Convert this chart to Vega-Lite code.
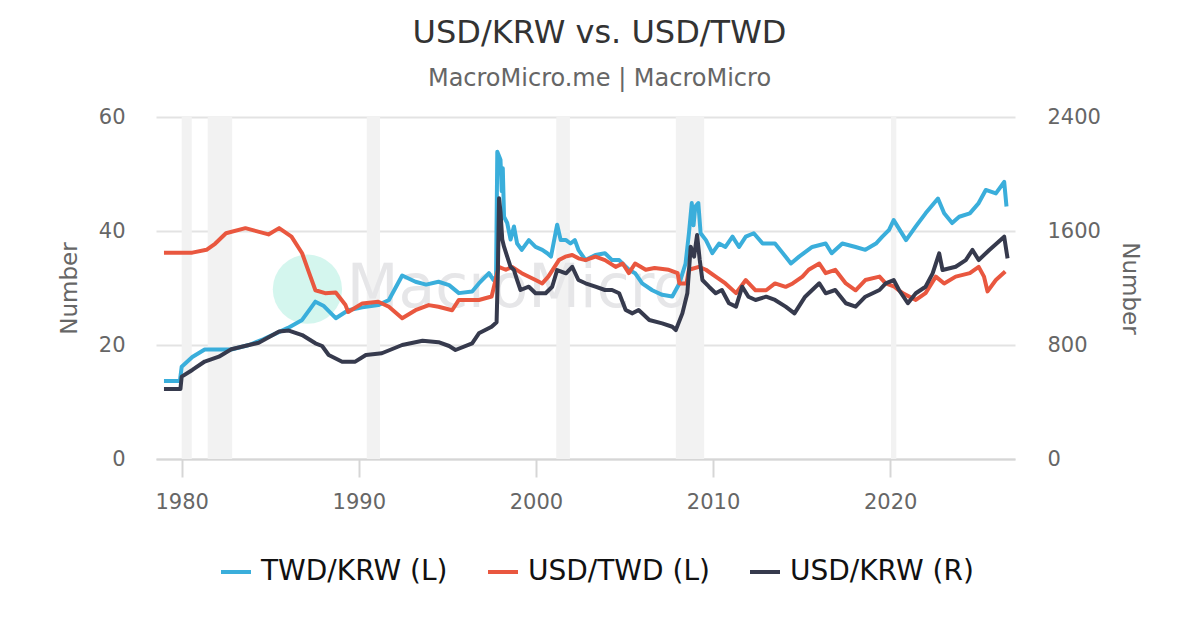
{
  "$schema": "https://vega.github.io/schema/vega-lite/v6.json",
  "width": 859,
  "height": 342,
  "autosize": {"type": "none"},
  "padding": {"left": 156, "top": 117, "right": 185, "bottom": 171},
  "background": "white",
  "config": {
    "font": "DejaVu Sans",
    "view": {"stroke": null},
    "axis": {
      "labelFont": "DejaVu Sans",
      "titleFont": "DejaVu Sans",
      "labelColor": "#666666",
      "titleColor": "#666666",
      "labelFontSize": 21,
      "titleFontSize": 23,
      "titleFontWeight": "normal"
    },
    "legend": {
      "orient": "none",
      "legendX": 63,
      "legendY": 438,
      "direction": "horizontal",
      "labelFontSize": 28,
      "labelLimit": 400,
      "labelColor": "#111111",
      "labelFont": "DejaVu Sans",
      "symbolType": "stroke",
      "symbolSize": 900,
      "symbolStrokeWidth": 4,
      "columnPadding": 32,
      "labelOffset": 8
    }
  },
  "title": {
    "text": "USD/KRW vs. USD/TWD",
    "subtitle": "MacroMicro.me | MacroMicro",
    "fontSize": 32,
    "fontWeight": "normal",
    "color": "#333333",
    "subtitleFontSize": 24,
    "subtitleColor": "#666666",
    "subtitlePadding": 17,
    "offset": 14,
    "dx": 14,
    "anchor": "middle"
  },
  "datasets": {
    "recessions": [
      {"start": 1980.0, "end": 1980.57},
      {"start": 1981.47, "end": 1982.85},
      {"start": 1990.45, "end": 1991.2},
      {"start": 2001.15, "end": 2001.92},
      {"start": 2007.9, "end": 2009.5},
      {"start": 2020.05, "end": 2020.35}
    ],
    "mark": [{"t": 1987.1, "v": 29.8, "name": "MacroMicro", "tx": 1999.0}],
    "fx": [
      {"t": 1979.0, "s": "TWD/KRW (L)", "v": 13.7},
      {"t": 1979.9, "s": "TWD/KRW (L)", "v": 13.7},
      {"t": 1980.0, "s": "TWD/KRW (L)", "v": 16.2},
      {"t": 1980.6, "s": "TWD/KRW (L)", "v": 17.9},
      {"t": 1981.3, "s": "TWD/KRW (L)", "v": 19.2},
      {"t": 1982.8, "s": "TWD/KRW (L)", "v": 19.2},
      {"t": 1983.8, "s": "TWD/KRW (L)", "v": 20.0},
      {"t": 1984.6, "s": "TWD/KRW (L)", "v": 21.0},
      {"t": 1985.3, "s": "TWD/KRW (L)", "v": 22.0},
      {"t": 1986.0, "s": "TWD/KRW (L)", "v": 23.0},
      {"t": 1986.8, "s": "TWD/KRW (L)", "v": 24.4},
      {"t": 1987.55, "s": "TWD/KRW (L)", "v": 27.6},
      {"t": 1988.0, "s": "TWD/KRW (L)", "v": 26.9},
      {"t": 1988.7, "s": "TWD/KRW (L)", "v": 24.7},
      {"t": 1989.4, "s": "TWD/KRW (L)", "v": 26.1},
      {"t": 1990.2, "s": "TWD/KRW (L)", "v": 26.6},
      {"t": 1991.1, "s": "TWD/KRW (L)", "v": 27.0},
      {"t": 1991.7, "s": "TWD/KRW (L)", "v": 27.9},
      {"t": 1992.45, "s": "TWD/KRW (L)", "v": 32.2},
      {"t": 1993.2, "s": "TWD/KRW (L)", "v": 31.1},
      {"t": 1993.8, "s": "TWD/KRW (L)", "v": 30.6},
      {"t": 1994.5, "s": "TWD/KRW (L)", "v": 31.1},
      {"t": 1995.1, "s": "TWD/KRW (L)", "v": 30.5},
      {"t": 1995.65, "s": "TWD/KRW (L)", "v": 29.1},
      {"t": 1996.4, "s": "TWD/KRW (L)", "v": 29.4},
      {"t": 1996.78, "s": "TWD/KRW (L)", "v": 30.8},
      {"t": 1997.35, "s": "TWD/KRW (L)", "v": 32.6},
      {"t": 1997.6, "s": "TWD/KRW (L)", "v": 31.4},
      {"t": 1997.75, "s": "TWD/KRW (L)", "v": 32.0},
      {"t": 1997.82, "s": "TWD/KRW (L)", "v": 53.9},
      {"t": 1998.0, "s": "TWD/KRW (L)", "v": 52.5},
      {"t": 1998.07, "s": "TWD/KRW (L)", "v": 47.0},
      {"t": 1998.13, "s": "TWD/KRW (L)", "v": 51.0},
      {"t": 1998.2, "s": "TWD/KRW (L)", "v": 42.5},
      {"t": 1998.38, "s": "TWD/KRW (L)", "v": 41.4},
      {"t": 1998.57, "s": "TWD/KRW (L)", "v": 38.5},
      {"t": 1998.76, "s": "TWD/KRW (L)", "v": 40.8},
      {"t": 1998.94, "s": "TWD/KRW (L)", "v": 37.8},
      {"t": 1999.2, "s": "TWD/KRW (L)", "v": 36.7},
      {"t": 1999.6, "s": "TWD/KRW (L)", "v": 38.4},
      {"t": 1999.98, "s": "TWD/KRW (L)", "v": 37.2},
      {"t": 2000.36, "s": "TWD/KRW (L)", "v": 36.7},
      {"t": 2000.64, "s": "TWD/KRW (L)", "v": 36.1},
      {"t": 2000.85, "s": "TWD/KRW (L)", "v": 35.5},
      {"t": 2001.2, "s": "TWD/KRW (L)", "v": 41.1},
      {"t": 2001.4, "s": "TWD/KRW (L)", "v": 38.4},
      {"t": 2001.7, "s": "TWD/KRW (L)", "v": 38.4},
      {"t": 2001.95, "s": "TWD/KRW (L)", "v": 37.8},
      {"t": 2002.2, "s": "TWD/KRW (L)", "v": 38.4},
      {"t": 2002.4, "s": "TWD/KRW (L)", "v": 36.7},
      {"t": 2002.8, "s": "TWD/KRW (L)", "v": 34.9},
      {"t": 2003.36, "s": "TWD/KRW (L)", "v": 35.8},
      {"t": 2003.9, "s": "TWD/KRW (L)", "v": 36.1},
      {"t": 2004.3, "s": "TWD/KRW (L)", "v": 34.9},
      {"t": 2004.7, "s": "TWD/KRW (L)", "v": 34.9},
      {"t": 2005.25, "s": "TWD/KRW (L)", "v": 33.2},
      {"t": 2005.6, "s": "TWD/KRW (L)", "v": 32.6},
      {"t": 2006.0, "s": "TWD/KRW (L)", "v": 30.8},
      {"t": 2006.57, "s": "TWD/KRW (L)", "v": 29.6},
      {"t": 2007.13, "s": "TWD/KRW (L)", "v": 28.8},
      {"t": 2007.7, "s": "TWD/KRW (L)", "v": 28.5},
      {"t": 2008.1, "s": "TWD/KRW (L)", "v": 30.8},
      {"t": 2008.45, "s": "TWD/KRW (L)", "v": 34.3},
      {"t": 2008.64, "s": "TWD/KRW (L)", "v": 39.6},
      {"t": 2008.8, "s": "TWD/KRW (L)", "v": 44.9},
      {"t": 2008.9, "s": "TWD/KRW (L)", "v": 41.0},
      {"t": 2009.0, "s": "TWD/KRW (L)", "v": 44.3},
      {"t": 2009.17, "s": "TWD/KRW (L)", "v": 44.9},
      {"t": 2009.3, "s": "TWD/KRW (L)", "v": 39.6},
      {"t": 2009.6, "s": "TWD/KRW (L)", "v": 38.4},
      {"t": 2009.96, "s": "TWD/KRW (L)", "v": 36.1},
      {"t": 2010.34, "s": "TWD/KRW (L)", "v": 37.8},
      {"t": 2010.7, "s": "TWD/KRW (L)", "v": 37.2},
      {"t": 2011.1, "s": "TWD/KRW (L)", "v": 39.0},
      {"t": 2011.47, "s": "TWD/KRW (L)", "v": 37.2},
      {"t": 2011.85, "s": "TWD/KRW (L)", "v": 39.0},
      {"t": 2012.3, "s": "TWD/KRW (L)", "v": 39.6},
      {"t": 2012.8, "s": "TWD/KRW (L)", "v": 37.8},
      {"t": 2013.5, "s": "TWD/KRW (L)", "v": 37.8},
      {"t": 2014.1, "s": "TWD/KRW (L)", "v": 35.5},
      {"t": 2014.4, "s": "TWD/KRW (L)", "v": 34.3},
      {"t": 2014.86, "s": "TWD/KRW (L)", "v": 35.5},
      {"t": 2015.6, "s": "TWD/KRW (L)", "v": 37.2},
      {"t": 2016.36, "s": "TWD/KRW (L)", "v": 37.8},
      {"t": 2016.7, "s": "TWD/KRW (L)", "v": 36.1},
      {"t": 2017.3, "s": "TWD/KRW (L)", "v": 37.8},
      {"t": 2018.05, "s": "TWD/KRW (L)", "v": 37.2},
      {"t": 2018.6, "s": "TWD/KRW (L)", "v": 36.7},
      {"t": 2019.2, "s": "TWD/KRW (L)", "v": 37.8},
      {"t": 2019.56, "s": "TWD/KRW (L)", "v": 39.0},
      {"t": 2019.94, "s": "TWD/KRW (L)", "v": 40.2},
      {"t": 2020.2, "s": "TWD/KRW (L)", "v": 41.9},
      {"t": 2020.9, "s": "TWD/KRW (L)", "v": 38.4},
      {"t": 2021.45, "s": "TWD/KRW (L)", "v": 40.8},
      {"t": 2022.0, "s": "TWD/KRW (L)", "v": 43.1},
      {"t": 2022.7, "s": "TWD/KRW (L)", "v": 45.7},
      {"t": 2023.05, "s": "TWD/KRW (L)", "v": 43.1},
      {"t": 2023.5, "s": "TWD/KRW (L)", "v": 41.4},
      {"t": 2023.9, "s": "TWD/KRW (L)", "v": 42.5},
      {"t": 2024.5, "s": "TWD/KRW (L)", "v": 43.1},
      {"t": 2025.0, "s": "TWD/KRW (L)", "v": 44.9},
      {"t": 2025.4, "s": "TWD/KRW (L)", "v": 47.2},
      {"t": 2025.97, "s": "TWD/KRW (L)", "v": 46.6},
      {"t": 2026.44, "s": "TWD/KRW (L)", "v": 48.6},
      {"t": 2026.57, "s": "TWD/KRW (L)", "v": 44.3},

      {"t": 1979.0, "s": "USD/TWD (L)", "v": 36.2},
      {"t": 1980.6, "s": "USD/TWD (L)", "v": 36.2},
      {"t": 1981.4, "s": "USD/TWD (L)", "v": 36.7},
      {"t": 1981.9, "s": "USD/TWD (L)", "v": 37.8},
      {"t": 1982.5, "s": "USD/TWD (L)", "v": 39.6},
      {"t": 1983.6, "s": "USD/TWD (L)", "v": 40.5},
      {"t": 1984.9, "s": "USD/TWD (L)", "v": 39.4},
      {"t": 1985.5, "s": "USD/TWD (L)", "v": 40.5},
      {"t": 1986.2, "s": "USD/TWD (L)", "v": 39.0},
      {"t": 1986.8, "s": "USD/TWD (L)", "v": 36.1},
      {"t": 1987.2, "s": "USD/TWD (L)", "v": 32.6},
      {"t": 1987.55, "s": "USD/TWD (L)", "v": 29.6},
      {"t": 1988.1, "s": "USD/TWD (L)", "v": 29.1},
      {"t": 1988.7, "s": "USD/TWD (L)", "v": 29.2},
      {"t": 1989.25, "s": "USD/TWD (L)", "v": 27.0},
      {"t": 1989.4, "s": "USD/TWD (L)", "v": 25.8},
      {"t": 1990.2, "s": "USD/TWD (L)", "v": 27.3},
      {"t": 1991.1, "s": "USD/TWD (L)", "v": 27.6},
      {"t": 1991.7, "s": "USD/TWD (L)", "v": 26.7},
      {"t": 1992.45, "s": "USD/TWD (L)", "v": 24.7},
      {"t": 1993.2, "s": "USD/TWD (L)", "v": 26.1},
      {"t": 1993.95, "s": "USD/TWD (L)", "v": 27.0},
      {"t": 1994.5, "s": "USD/TWD (L)", "v": 26.7},
      {"t": 1995.27, "s": "USD/TWD (L)", "v": 26.1},
      {"t": 1995.65, "s": "USD/TWD (L)", "v": 27.9},
      {"t": 1996.78, "s": "USD/TWD (L)", "v": 27.9},
      {"t": 1997.5, "s": "USD/TWD (L)", "v": 28.5},
      {"t": 1997.9, "s": "USD/TWD (L)", "v": 33.7},
      {"t": 1998.3, "s": "USD/TWD (L)", "v": 33.2},
      {"t": 1998.65, "s": "USD/TWD (L)", "v": 33.7},
      {"t": 1999.2, "s": "USD/TWD (L)", "v": 32.6},
      {"t": 1999.98, "s": "USD/TWD (L)", "v": 31.4},
      {"t": 2000.36, "s": "USD/TWD (L)", "v": 30.8},
      {"t": 2000.7, "s": "USD/TWD (L)", "v": 32.0},
      {"t": 2001.3, "s": "USD/TWD (L)", "v": 34.9},
      {"t": 2001.66, "s": "USD/TWD (L)", "v": 35.5},
      {"t": 2002.05, "s": "USD/TWD (L)", "v": 35.8},
      {"t": 2002.4, "s": "USD/TWD (L)", "v": 35.2},
      {"t": 2002.8, "s": "USD/TWD (L)", "v": 34.9},
      {"t": 2003.36, "s": "USD/TWD (L)", "v": 35.5},
      {"t": 2003.9, "s": "USD/TWD (L)", "v": 34.9},
      {"t": 2004.5, "s": "USD/TWD (L)", "v": 33.7},
      {"t": 2004.9, "s": "USD/TWD (L)", "v": 34.3},
      {"t": 2005.25, "s": "USD/TWD (L)", "v": 32.6},
      {"t": 2005.6, "s": "USD/TWD (L)", "v": 34.3},
      {"t": 2006.2, "s": "USD/TWD (L)", "v": 33.2},
      {"t": 2006.7, "s": "USD/TWD (L)", "v": 33.5},
      {"t": 2007.5, "s": "USD/TWD (L)", "v": 33.2},
      {"t": 2008.0, "s": "USD/TWD (L)", "v": 32.6},
      {"t": 2008.1, "s": "USD/TWD (L)", "v": 30.8},
      {"t": 2008.5, "s": "USD/TWD (L)", "v": 30.8},
      {"t": 2008.64, "s": "USD/TWD (L)", "v": 33.2},
      {"t": 2009.2, "s": "USD/TWD (L)", "v": 33.7},
      {"t": 2009.6, "s": "USD/TWD (L)", "v": 33.2},
      {"t": 2010.15, "s": "USD/TWD (L)", "v": 32.0},
      {"t": 2010.7, "s": "USD/TWD (L)", "v": 30.8},
      {"t": 2011.3, "s": "USD/TWD (L)", "v": 29.1},
      {"t": 2011.85, "s": "USD/TWD (L)", "v": 31.4},
      {"t": 2012.4, "s": "USD/TWD (L)", "v": 29.6},
      {"t": 2013.0, "s": "USD/TWD (L)", "v": 29.6},
      {"t": 2013.5, "s": "USD/TWD (L)", "v": 30.8},
      {"t": 2014.1, "s": "USD/TWD (L)", "v": 30.2},
      {"t": 2014.5, "s": "USD/TWD (L)", "v": 30.8},
      {"t": 2015.05, "s": "USD/TWD (L)", "v": 32.0},
      {"t": 2015.4, "s": "USD/TWD (L)", "v": 33.2},
      {"t": 2016.0, "s": "USD/TWD (L)", "v": 34.3},
      {"t": 2016.36, "s": "USD/TWD (L)", "v": 32.6},
      {"t": 2016.9, "s": "USD/TWD (L)", "v": 33.2},
      {"t": 2017.5, "s": "USD/TWD (L)", "v": 30.8},
      {"t": 2018.05, "s": "USD/TWD (L)", "v": 29.6},
      {"t": 2018.6, "s": "USD/TWD (L)", "v": 31.4},
      {"t": 2019.4, "s": "USD/TWD (L)", "v": 32.0},
      {"t": 2019.75, "s": "USD/TWD (L)", "v": 30.8},
      {"t": 2020.2, "s": "USD/TWD (L)", "v": 30.3},
      {"t": 2020.7, "s": "USD/TWD (L)", "v": 29.1},
      {"t": 2021.45, "s": "USD/TWD (L)", "v": 27.9},
      {"t": 2022.0, "s": "USD/TWD (L)", "v": 29.1},
      {"t": 2022.58, "s": "USD/TWD (L)", "v": 32.0},
      {"t": 2023.05, "s": "USD/TWD (L)", "v": 30.8},
      {"t": 2023.7, "s": "USD/TWD (L)", "v": 32.0},
      {"t": 2024.5, "s": "USD/TWD (L)", "v": 32.6},
      {"t": 2025.0, "s": "USD/TWD (L)", "v": 33.7},
      {"t": 2025.3, "s": "USD/TWD (L)", "v": 32.0},
      {"t": 2025.5, "s": "USD/TWD (L)", "v": 29.4},
      {"t": 2025.97, "s": "USD/TWD (L)", "v": 31.4},
      {"t": 2026.5, "s": "USD/TWD (L)", "v": 32.9},

      {"t": 1979.0, "s": "USD/KRW (R)", "v": 491},
      {"t": 1979.93, "s": "USD/KRW (R)", "v": 491},
      {"t": 1980.0, "s": "USD/KRW (R)", "v": 578},
      {"t": 1980.6, "s": "USD/KRW (R)", "v": 625},
      {"t": 1981.3, "s": "USD/KRW (R)", "v": 684},
      {"t": 1982.1, "s": "USD/KRW (R)", "v": 718},
      {"t": 1982.8, "s": "USD/KRW (R)", "v": 770},
      {"t": 1983.8, "s": "USD/KRW (R)", "v": 800},
      {"t": 1984.35, "s": "USD/KRW (R)", "v": 816},
      {"t": 1985.5, "s": "USD/KRW (R)", "v": 894},
      {"t": 1986.05, "s": "USD/KRW (R)", "v": 901},
      {"t": 1986.8, "s": "USD/KRW (R)", "v": 870},
      {"t": 1987.55, "s": "USD/KRW (R)", "v": 812},
      {"t": 1987.93, "s": "USD/KRW (R)", "v": 793},
      {"t": 1988.3, "s": "USD/KRW (R)", "v": 730},
      {"t": 1989.06, "s": "USD/KRW (R)", "v": 683},
      {"t": 1989.8, "s": "USD/KRW (R)", "v": 683},
      {"t": 1990.4, "s": "USD/KRW (R)", "v": 730},
      {"t": 1991.3, "s": "USD/KRW (R)", "v": 742},
      {"t": 1992.45, "s": "USD/KRW (R)", "v": 800},
      {"t": 1993.6, "s": "USD/KRW (R)", "v": 830},
      {"t": 1994.5, "s": "USD/KRW (R)", "v": 820},
      {"t": 1995.1, "s": "USD/KRW (R)", "v": 793},
      {"t": 1995.46, "s": "USD/KRW (R)", "v": 765},
      {"t": 1996.4, "s": "USD/KRW (R)", "v": 812},
      {"t": 1996.78, "s": "USD/KRW (R)", "v": 882},
      {"t": 1997.5, "s": "USD/KRW (R)", "v": 928},
      {"t": 1997.78, "s": "USD/KRW (R)", "v": 960},
      {"t": 1997.85, "s": "USD/KRW (R)", "v": 1300},
      {"t": 1997.92, "s": "USD/KRW (R)", "v": 1830},
      {"t": 1998.0, "s": "USD/KRW (R)", "v": 1736},
      {"t": 1998.1, "s": "USD/KRW (R)", "v": 1540},
      {"t": 1998.2, "s": "USD/KRW (R)", "v": 1490},
      {"t": 1998.38, "s": "USD/KRW (R)", "v": 1420},
      {"t": 1998.57, "s": "USD/KRW (R)", "v": 1349},
      {"t": 1998.76, "s": "USD/KRW (R)", "v": 1326},
      {"t": 1998.94, "s": "USD/KRW (R)", "v": 1256},
      {"t": 1999.13, "s": "USD/KRW (R)", "v": 1186},
      {"t": 1999.6, "s": "USD/KRW (R)", "v": 1209},
      {"t": 1999.98, "s": "USD/KRW (R)", "v": 1163},
      {"t": 2000.55, "s": "USD/KRW (R)", "v": 1163},
      {"t": 2000.92, "s": "USD/KRW (R)", "v": 1209},
      {"t": 2001.2, "s": "USD/KRW (R)", "v": 1326},
      {"t": 2001.7, "s": "USD/KRW (R)", "v": 1303},
      {"t": 2002.05, "s": "USD/KRW (R)", "v": 1349},
      {"t": 2002.4, "s": "USD/KRW (R)", "v": 1256},
      {"t": 2002.8, "s": "USD/KRW (R)", "v": 1233},
      {"t": 2003.36, "s": "USD/KRW (R)", "v": 1209},
      {"t": 2003.9, "s": "USD/KRW (R)", "v": 1186},
      {"t": 2004.3, "s": "USD/KRW (R)", "v": 1186},
      {"t": 2004.7, "s": "USD/KRW (R)", "v": 1163},
      {"t": 2005.07, "s": "USD/KRW (R)", "v": 1046},
      {"t": 2005.45, "s": "USD/KRW (R)", "v": 1022},
      {"t": 2005.8, "s": "USD/KRW (R)", "v": 1046},
      {"t": 2006.4, "s": "USD/KRW (R)", "v": 975},
      {"t": 2007.13, "s": "USD/KRW (R)", "v": 952},
      {"t": 2007.7, "s": "USD/KRW (R)", "v": 928},
      {"t": 2007.9, "s": "USD/KRW (R)", "v": 905},
      {"t": 2008.27, "s": "USD/KRW (R)", "v": 1022},
      {"t": 2008.55, "s": "USD/KRW (R)", "v": 1163},
      {"t": 2008.74, "s": "USD/KRW (R)", "v": 1490},
      {"t": 2008.93, "s": "USD/KRW (R)", "v": 1420},
      {"t": 2009.1, "s": "USD/KRW (R)", "v": 1572},
      {"t": 2009.25, "s": "USD/KRW (R)", "v": 1396},
      {"t": 2009.4, "s": "USD/KRW (R)", "v": 1256},
      {"t": 2009.77, "s": "USD/KRW (R)", "v": 1209},
      {"t": 2010.15, "s": "USD/KRW (R)", "v": 1163},
      {"t": 2010.5, "s": "USD/KRW (R)", "v": 1186},
      {"t": 2010.9, "s": "USD/KRW (R)", "v": 1093},
      {"t": 2011.3, "s": "USD/KRW (R)", "v": 1069},
      {"t": 2011.65, "s": "USD/KRW (R)", "v": 1209},
      {"t": 2012.0, "s": "USD/KRW (R)", "v": 1139},
      {"t": 2012.4, "s": "USD/KRW (R)", "v": 1116},
      {"t": 2013.0, "s": "USD/KRW (R)", "v": 1139},
      {"t": 2013.5, "s": "USD/KRW (R)", "v": 1116},
      {"t": 2014.1, "s": "USD/KRW (R)", "v": 1069},
      {"t": 2014.6, "s": "USD/KRW (R)", "v": 1022},
      {"t": 2015.2, "s": "USD/KRW (R)", "v": 1139},
      {"t": 2016.0, "s": "USD/KRW (R)", "v": 1233},
      {"t": 2016.36, "s": "USD/KRW (R)", "v": 1163},
      {"t": 2016.9, "s": "USD/KRW (R)", "v": 1186},
      {"t": 2017.5, "s": "USD/KRW (R)", "v": 1093},
      {"t": 2018.05, "s": "USD/KRW (R)", "v": 1069},
      {"t": 2018.6, "s": "USD/KRW (R)", "v": 1139},
      {"t": 2019.4, "s": "USD/KRW (R)", "v": 1186},
      {"t": 2019.75, "s": "USD/KRW (R)", "v": 1233},
      {"t": 2020.2, "s": "USD/KRW (R)", "v": 1256},
      {"t": 2020.5, "s": "USD/KRW (R)", "v": 1186},
      {"t": 2021.0, "s": "USD/KRW (R)", "v": 1093},
      {"t": 2021.45, "s": "USD/KRW (R)", "v": 1163},
      {"t": 2022.0, "s": "USD/KRW (R)", "v": 1209},
      {"t": 2022.4, "s": "USD/KRW (R)", "v": 1303},
      {"t": 2022.77, "s": "USD/KRW (R)", "v": 1443},
      {"t": 2022.96, "s": "USD/KRW (R)", "v": 1326},
      {"t": 2023.7, "s": "USD/KRW (R)", "v": 1349},
      {"t": 2024.27, "s": "USD/KRW (R)", "v": 1396},
      {"t": 2024.65, "s": "USD/KRW (R)", "v": 1467},
      {"t": 2025.0, "s": "USD/KRW (R)", "v": 1396},
      {"t": 2025.6, "s": "USD/KRW (R)", "v": 1467},
      {"t": 2026.44, "s": "USD/KRW (R)", "v": 1560},
      {"t": 2026.63, "s": "USD/KRW (R)", "v": 1408}
    ]
  },
  "layer": [
    {
      "layer": [
        {
          "data": {"name": "recessions"},
          "mark": {"type": "rect", "color": "#f2f2f2"},
          "encoding": {
            "x": {
              "field": "start",
              "type": "quantitative",
              "scale": {"domain": [1978.55, 2027.05], "nice": false, "zero": false},
              "axis": {
                "values": [1980, 1990, 2000, 2010, 2020],
                "format": "d",
                "title": null,
                "grid": false,
                "domainColor": "#d6d6d6",
                "domainWidth": 2,
                "tickColor": "#d6d6d6",
                "tickWidth": 2,
                "tickSize": 18,
                "labelPadding": 14
              }
            },
            "x2": {"field": "end"}
          }
        },
        {
          "data": {"name": "mark"},
          "mark": {"type": "circle", "color": "#d4f6ee", "opacity": 1, "size": 4800},
          "encoding": {
            "x": {"field": "t", "type": "quantitative"},
            "y": {"field": "v", "type": "quantitative"}
          }
        },
        {
          "data": {"name": "mark"},
          "mark": {
            "type": "text",
            "fontSize": 60,
            "font": "DejaVu Sans",
            "color": "#e6e6e8",
            "align": "center",
            "baseline": "middle"
          },
          "encoding": {
            "x": {"field": "tx", "type": "quantitative"},
            "y": {"field": "v", "type": "quantitative"},
            "text": {"field": "name"}
          }
        },
        {
          "data": {"name": "fx"},
          "transform": [{"filter": "datum.s != 'USD/KRW (R)'"}],
          "mark": {"type": "line", "strokeWidth": 4, "strokeJoin": "round"},
          "encoding": {
            "x": {"field": "t", "type": "quantitative"},
            "y": {
              "field": "v",
              "type": "quantitative",
              "scale": {"domain": [0, 60], "nice": false},
              "axis": {
                "values": [0, 20, 40, 60],
                "title": "Number",
                "grid": true,
                "gridColor": "#e3e3e3",
                "gridWidth": 2,
                "domain": false,
                "ticks": false,
                "labelPadding": 31,
                "titlePadding": 17
              }
            },
            "color": {
              "field": "s",
              "type": "nominal",
              "title": null,
              "scale": {
                "domain": ["TWD/KRW (L)", "USD/TWD (L)", "USD/KRW (R)"],
                "range": ["#3aaedb", "#e9573f", "#363a4d"]
              }
            }
          }
        }
      ]
    },
    {
      "data": {"name": "fx"},
      "transform": [{"filter": "datum.s == 'USD/KRW (R)'"}],
      "mark": {"type": "line", "strokeWidth": 4, "strokeJoin": "round"},
      "encoding": {
        "x": {"field": "t", "type": "quantitative"},
        "y": {
          "field": "v",
          "type": "quantitative",
          "scale": {"domain": [0, 2400], "nice": false},
          "axis": {
            "orient": "right",
            "values": [0, 800, 1600, 2400],
            "format": "d",
            "title": "Number",
            "grid": false,
            "domain": false,
            "ticks": false,
            "labelPadding": 32,
            "titlePadding": 17
          }
        },
        "color": {
          "field": "s",
          "type": "nominal",
          "scale": {
            "domain": ["TWD/KRW (L)", "USD/TWD (L)", "USD/KRW (R)"],
            "range": ["#3aaedb", "#e9573f", "#363a4d"]
          }
        }
      }
    }
  ],
  "resolve": {"scale": {"y": "independent"}}
}
